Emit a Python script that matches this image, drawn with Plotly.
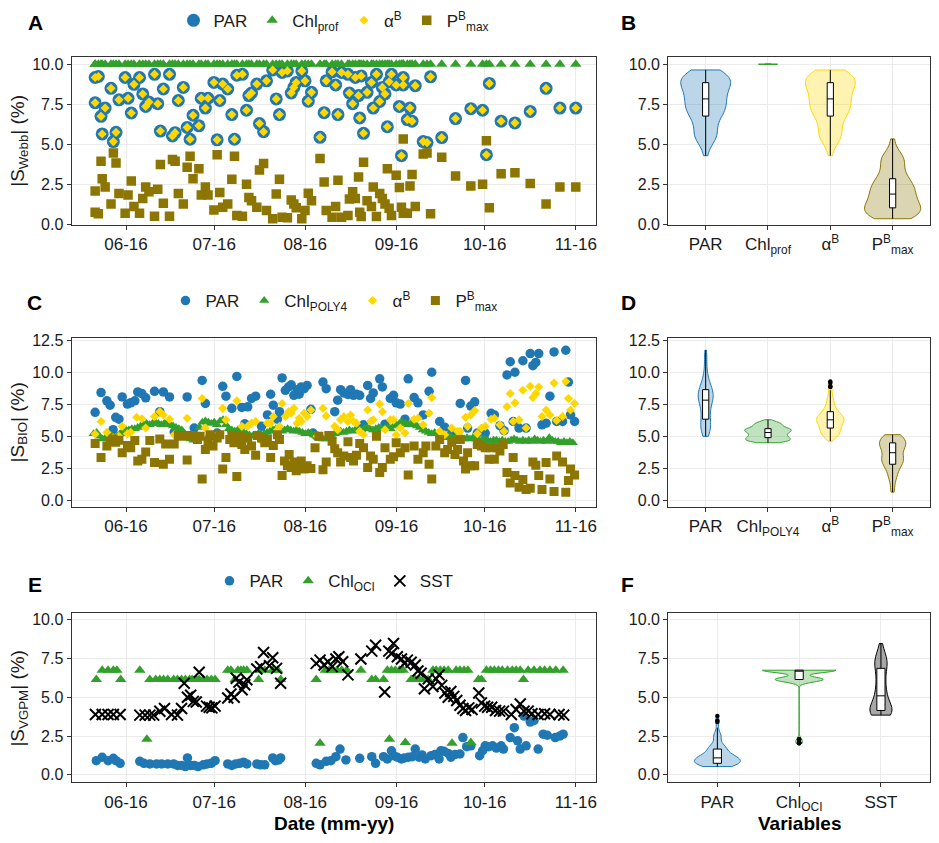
import numpy as np
import pandas as pd
import plotly.graph_objects as go

# ---------------- DATA (days since 2016-06-01) ----------------
# Panel A  (|S_Webb|)
A_day = [
    -10.5, -10.5, -9.4, -8.5, -8.1, -7.1, -5.1, -4.3, -3.4, -2.4,
    -0.3, 0.7, 1.8, 2.7, 4.6, 5.7, 6.7, 7.8, 9.7, 10.8,
    11.7, 12.7, 14.8, 15.8, 16.7, 17.8, 19.5, 20.8, 21.8, 22.8,
    24.8, 25.6, 27.0, 27.9, 29.9, 31.0, 31.9, 32.9, 34.6, 36.0,
    36.9, 37.7, 39.6, 41.0, 41.8, 42.7, 44.5, 45.4, 46.8, 47.8,
    49.9, 51.1, 52.2, 53.1, 54.9, 56.2, 57.1, 57.9, 59.8, 60.9,
    62.0, 63.1, 66.0, 67.4, 68.1, 70.1, 71.3, 72.1, 73.3, 75.5,
    76.0, 77.1, 78.0, 79.1, 79.5, 80.0, 80.8, 82.0, 83.5, 84.1,
    85.2, 86.3, 87.2, 88.1, 88.9, 89.5, 90.3, 91.9, 93.0, 93.7,
    94.3, 94.3, 95.7, 96.6, 97.3, 98.4, 101.1, 102.4, 103.6, 107.4,
    112.1, 117.3, 121.3, 122.6, 123.6, 127.6, 132.3, 137.5, 142.9, 147.6,
    153.0]
A_par = [
    9.18, 7.60, 9.24, 6.75, 5.65, 7.27, 8.50, 5.17, 5.75, 7.78,
    9.18, 7.88, 6.96, 8.75, 9.18, 8.15, 7.37, 7.64, 9.38, 7.54,
    5.83, 8.46, 9.38, 5.52, 5.73, 7.74, 8.56, 6.06, 5.32, 6.82,
    6.16, 7.88, 7.27, 7.88, 8.87, 5.28, 7.74, 8.77, 8.46, 6.86,
    5.32, 9.32, 9.38, 7.13, 8.05, 8.21, 8.77, 6.30, 5.79, 8.97,
    9.65, 7.84, 6.86, 9.49, 9.59, 8.21, 8.56, 8.87, 9.59, 8.97,
    7.70, 8.25, 5.44, 6.98, 8.97, 9.53, 8.71, 6.86, 9.49, 9.38,
    8.21, 7.54, 9.18, 8.05, 6.65, 9.28, 5.69, 8.25, 8.87, 7.27,
    9.38, 7.68, 8.56, 8.15, 6.10, 8.91, 9.38, 8.71, 7.37, 4.29,
    9.18, 8.71, 6.55, 7.27, 6.45, 8.67, 5.17, 5.11, 9.22, 5.42,
    6.61, 7.23, 7.13, 4.35, 8.81, 6.45, 6.34, 7.06, 8.50, 7.27,
    7.27]
A_alpha = list(A_par)  # alpha^B markers sit exactly on the PAR markers in the picture
A_chl = [10.0] * len(A_day)  # Chl_prof is flat at 10 on every date
A_pmax = [
    2.09, 0.76, 0.66, 3.94, 2.85, 2.34, 1.27, 4.46, 3.84, 1.93,
    0.70, 1.83, 2.71, 1.11, 0.70, 1.62, 2.34, 2.03, 0.51, 2.20,
    3.74, 1.31, 0.51, 4.05, 3.94, 1.93, 1.27, 3.57, 4.25, 2.85,
    3.47, 1.83, 2.34, 1.83, 0.90, 4.35, 1.99, 1.07, 1.27, 2.81,
    4.25, 0.55, 0.51, 2.51, 1.68, 1.48, 1.07, 3.39, 3.80, 0.86,
    0.35, 1.89, 2.81, 0.45, 0.41, 1.52, 1.27, 1.03, 0.35, 0.86,
    1.95, 1.48, 4.11, 2.65, 0.86, 0.45, 1.11, 2.75, 0.45, 0.55,
    1.58, 2.03, 1.62, 2.96, 0.76, 0.49, 3.88, 1.48, 1.11, 2.34,
    0.49, 1.93, 1.62, 1.27, 3.47, 1.01, 0.55, 3.06, 2.30, 1.07,
    5.34, 0.70, 0.70, 2.40, 3.12, 1.11, 4.39, 4.46, 0.66, 4.19,
    3.02, 2.40, 2.51, 5.22, 1.03, 3.16, 3.22, 2.55, 1.27, 2.34,
    2.34]

# Panel C  (|S_BIO|)
C_par_day = [
    -10.5, -8.5, -6.5, -5.4, -4.4, -3.5, -2.4, -1.3, 0.5, 1.6,
    3.0, 4.0, 5.4, 6.7, 9.7, 11.5, 12.7, 14.8, 16.4, 20.8,
    23.2, 25.9, 27.0, 28.6, 31.0, 32.9, 34.0, 36.0, 37.7, 39.4,
    40.4, 41.4, 42.7, 44.1, 46.1, 48.1, 49.2, 50.1, 51.5, 52.2,
    53.1, 54.2, 55.3, 56.2, 57.1, 58.2, 58.9, 59.6, 60.6, 61.6,
    62.9, 63.6, 65.0, 67.0, 68.1, 71.0, 72.0, 73.0, 74.1, 75.5,
    76.4, 77.4, 78.4, 79.5, 80.8, 82.2, 83.2, 84.1, 85.2, 86.3,
    87.2, 88.1, 89.9, 91.0, 91.9, 93.3, 94.9, 96.0, 98.0, 99.3,
    101.1, 103.1, 104.0, 106.7, 108.4, 110.8, 112.8, 113.7, 115.5, 116.2,
    117.3, 118.6, 119.5, 122.2, 124.2, 125.3, 127.2, 128.6, 129.6, 130.7,
    131.7, 132.3, 133.7, 135.0, 136.1, 137.5, 138.4, 139.4, 140.4, 141.5,
    142.9, 144.2, 145.6, 146.5, 148.5, 149.6, 150.5, 151.2, 152.6]
C_par = [
    6.88, 8.42, 7.78, 7.44, 5.52, 6.49, 6.34, 8.08, 7.52, 7.62,
    7.78, 8.47, 8.34, 8.01, 8.52, 6.93, 8.47, 8.08, 5.34, 8.08,
    5.65, 9.37, 7.57, 5.00, 5.26, 8.91, 8.14, 7.19, 9.68, 7.26,
    5.98, 7.31, 7.96, 8.14, 5.78, 6.67, 8.29, 7.44, 6.34, 6.93,
    9.57, 8.60, 8.86, 9.03, 8.21, 8.65, 8.29, 8.86, 8.73, 8.98,
    7.11, 5.26, 5.00, 9.24, 8.73, 6.93, 7.83, 8.65, 8.39, 8.27,
    8.65, 8.21, 8.29, 8.21, 5.90, 8.98, 7.96, 8.39, 5.26, 9.50,
    8.86, 5.95, 7.96, 8.21, 7.62, 7.52, 6.34, 9.50, 8.03, 7.62,
    6.67, 8.52, 10.01, 6.16, 5.72, 5.26, 5.26, 7.57, 9.37, 5.65,
    7.37, 7.70, 5.26, 5.26, 6.80, 6.67, 5.83, 5.44, 9.80, 10.83,
    6.16, 10.01, 5.65, 10.91, 5.65, 11.47, 10.52, 10.78, 11.47, 5.90,
    6.03, 8.14, 11.60, 6.16, 6.16, 11.73, 9.24, 6.67, 6.16]
C_chl_day = list(range(-11, 153))  # one value per day
C_chl = [
    5.2, 5.3, 5.0, 4.8, 4.9, 5.0, 5.1, 4.9, 5.0, 5.2,
    5.4, 5.5, 5.5, 5.6, 5.6, 5.7, 5.8, 5.9, 6.0, 5.9,
    6.0, 6.1, 6.0, 5.9, 6.0, 6.1, 5.9, 5.8, 5.7, 5.6,
    5.5, 5.2, 5.0, 4.8, 4.7, 5.0, 5.7, 6.1, 6.2, 6.1,
    6.0, 6.1, 5.9, 6.2, 6.3, 5.9, 5.6, 5.5, 5.4, 5.5,
    5.4, 5.3, 5.2, 5.1, 5.0, 5.1, 5.2, 5.1, 5.2, 5.3,
    5.4, 5.5, 5.6, 5.5, 5.4, 5.5, 5.6, 5.5, 5.4, 5.5,
    5.4, 5.3, 5.2, 5.3, 5.2, 5.1, 5.0, 4.9, 4.8, 4.8,
    4.9, 5.0, 5.2, 5.3, 5.4, 5.3, 5.4, 5.5, 5.4, 5.5,
    5.6, 5.5, 5.6, 5.7, 5.6, 5.5, 5.6, 5.7, 5.6, 5.6,
    5.7, 5.6, 5.8, 5.9, 6.0, 6.1, 6.0, 5.9, 6.0, 5.9,
    5.8, 5.7, 5.5, 5.4, 5.3, 5.2, 5.3, 5.2, 5.1, 5.0,
    4.9, 5.0, 4.9, 4.9, 5.0, 4.9, 4.8, 4.9, 4.8, 4.9,
    4.8, 4.7, 4.7, 4.8, 4.7, 4.6, 4.7, 4.7, 4.6, 4.7,
    4.6, 4.6, 4.7, 4.8, 4.7, 4.6, 4.7, 4.6, 4.7, 4.6,
    4.8, 4.7, 4.6, 4.7, 4.6, 4.9, 4.7, 4.6, 4.6, 4.5,
    4.6, 4.5, 4.6, 4.5]
C_alpha_day = [
    -10.5, -8.5, -6.5, -4.4, -2.4, -1.3, 0.5, 1.6, 3.6, 5.4,
    6.7, 9.7, 11.5, 12.7, 14.8, 16.4, 20.8, 23.2, 25.9, 27.0,
    28.6, 31.0, 32.9, 34.0, 37.7, 39.4, 41.4, 42.7, 44.1, 46.1,
    48.1, 49.2, 50.1, 51.5, 52.2, 53.1, 54.2, 55.3, 56.2, 57.1,
    58.2, 58.9, 59.6, 60.6, 61.6, 62.9, 65.0, 67.0, 68.1, 71.0,
    72.0, 73.0, 74.1, 75.5, 76.4, 77.4, 78.4, 79.5, 80.8, 82.2,
    83.2, 84.1, 85.2, 86.3, 87.2, 88.1, 89.9, 91.0, 91.9, 93.3,
    94.9, 96.0, 98.0, 99.3, 101.1, 103.1, 104.0, 106.7, 108.4, 110.8,
    112.8, 113.7, 115.5, 116.2, 117.3, 118.6, 119.5, 120.9, 122.2, 124.2,
    125.3, 127.2, 128.6, 129.6, 130.7, 131.7, 132.3, 133.7, 135.0, 136.1,
    137.5, 138.4, 139.4, 140.4, 141.5, 142.9, 144.2, 145.6, 146.5, 148.5,
    149.6, 150.5, 151.2, 152.6]
C_alpha = [
    5.18, 6.16, 5.31, 4.88, 5.00, 5.78, 5.21, 5.31, 6.49, 6.37,
    5.65, 6.55, 6.93, 6.67, 6.34, 5.13, 6.42, 5.00, 7.96, 5.65,
    5.00, 5.13, 7.19, 6.29, 7.78, 5.78, 5.78, 6.03, 6.16, 4.62,
    6.03, 6.03, 6.55, 5.52, 5.78, 7.57, 6.55, 6.93, 6.80, 7.19,
    6.03, 6.42, 6.16, 6.80, 6.55, 7.06, 5.00, 7.19, 6.60, 5.78,
    5.52, 6.29, 6.55, 6.16, 6.67, 6.16, 6.03, 5.39, 5.13, 7.06,
    6.16, 6.29, 5.00, 7.52, 6.93, 5.52, 6.29, 6.29, 5.13, 5.65,
    5.26, 7.57, 6.34, 6.42, 5.90, 6.80, 8.03, 5.39, 5.13, 5.65,
    5.39, 5.39, 6.49, 5.78, 6.67, 7.01, 5.21, 5.65, 5.78, 6.34,
    6.42, 5.90, 5.39, 7.31, 8.34, 6.16, 7.62, 6.29, 8.60, 5.65,
    8.91, 8.03, 8.34, 8.86, 6.55, 7.06, 6.67, 9.16, 6.24, 6.55,
    9.29, 7.96, 7.06, 7.57]
C_pmax_day = [
    -10.5, -8.5, -6.5, -5.4, -4.4, -3.5, -2.4, -1.3, 0.5, 1.6,
    3.0, 4.0, 5.4, 6.7, 8.1, 9.7, 11.5, 12.7, 13.5, 14.8,
    16.4, 17.8, 19.1, 20.8, 21.8, 23.2, 24.3, 25.2, 25.9, 27.0,
    27.9, 28.6, 29.6, 31.0, 31.9, 32.9, 34.0, 35.3, 36.0, 36.7,
    37.7, 38.7, 39.4, 40.4, 41.4, 42.7, 44.1, 44.7, 46.1, 47.2,
    48.1, 49.2, 50.1, 51.5, 52.2, 53.1, 53.9, 54.9, 55.5, 56.2,
    57.1, 57.9, 58.9, 59.6, 60.6, 61.6, 62.9, 64.3, 65.6, 67.0,
    68.1, 69.0, 70.1, 71.0, 72.0, 73.0, 74.1, 75.5, 76.4, 77.4,
    78.4, 79.5, 80.8, 82.2, 83.2, 84.1, 85.2, 86.3, 87.2, 88.1,
    89.9, 91.0, 91.9, 93.3, 94.9, 96.0, 98.0, 99.3, 101.1, 102.0,
    103.1, 104.0, 105.4, 106.7, 108.4, 109.4, 110.8, 111.9, 112.8, 113.7,
    114.8, 115.5, 116.2, 117.3, 118.6, 119.5, 120.9, 122.2, 123.5, 124.2,
    125.3, 126.3, 127.2, 128.3, 129.6, 130.7, 131.7, 132.3, 133.7, 135.0,
    136.1, 137.5, 138.4, 139.4, 140.4, 141.5, 142.9, 144.2, 145.6, 146.5,
    148.5, 149.6, 150.5, 151.2, 152.6]
C_pmax = [
    4.44, 3.34, 4.24, 4.62, 4.80, 4.54, 4.70, 3.72, 4.29, 4.11,
    4.67, 3.08, 3.21, 3.77, 4.67, 2.95, 4.80, 2.82, 4.41, 3.21,
    4.41, 5.06, 5.00, 3.16, 5.06, 5.00, 4.75, 5.00, 1.67, 3.98,
    4.62, 5.13, 4.24, 4.88, 5.13, 2.44, 3.34, 4.75, 5.06, 4.49,
    1.87, 5.00, 4.36, 3.98, 4.88, 4.24, 3.52, 5.06, 4.88, 4.49,
    4.75, 3.34, 4.29, 5.13, 4.75, 1.93, 3.08, 2.70, 3.59, 2.57,
    3.00, 2.31, 2.82, 3.08, 2.44, 2.70, 2.49, 4.11, 5.00, 2.39,
    3.00, 5.06, 4.62, 4.03, 3.72, 3.00, 3.47, 4.57, 3.34, 3.08,
    3.52, 4.44, 4.11, 2.57, 3.47, 3.21, 5.00, 2.18, 2.57, 4.11,
    3.21, 3.41, 4.49, 3.72, 4.11, 1.98, 4.24, 3.21, 3.72, 4.24,
    2.82, 1.67, 4.24, 4.75, 3.72, 3.98, 4.54, 3.59, 3.98, 4.75,
    3.08, 2.44, 3.72, 2.70, 2.70, 4.36, 4.24, 4.11, 3.21, 4.11,
    3.21, 4.11, 3.85, 4.36, 2.18, 1.36, 3.34, 1.93, 1.03, 1.62,
    0.85, 0.95, 3.00, 2.75, 1.93, 0.85, 2.95, 1.67, 0.69, 3.47,
    3.00, 0.64, 1.54, 2.44, 1.98]

# Panel E  (|S_VGPM|)
E_par_day = [
    -10.1, -8.1, -6.1, -4.3, -3.4, -2.0, 4.7, 6.1, 8.1, 10.4,
    12.1, 14.2, 16.2, 17.5, 18.9, 20.2, 20.9, 22.0, 23.2, 24.5,
    26.3, 27.6, 29.0, 30.3, 34.6, 36.0, 37.3, 38.7, 40.0, 41.1,
    44.5, 45.8, 47.2, 49.9, 50.8, 51.9, 52.6, 64.7, 66.0, 68.1,
    69.7, 71.4, 72.8, 74.8, 79.5, 83.6, 84.9, 87.6, 88.9, 90.3,
    91.0, 92.3, 93.7, 94.7, 96.1, 97.4, 98.4, 99.7, 100.7, 101.8,
    103.8, 105.1, 106.5, 107.1, 108.2, 109.6, 110.5, 111.9, 113.6, 114.6,
    115.9, 117.3, 120.3, 121.3, 122.2, 123.3, 124.7, 126.0, 127.6, 128.4,
    130.7, 132.1, 133.2, 134.1, 135.4, 136.1, 137.5, 138.8, 140.2, 141.9,
    143.3, 146.0, 147.6, 148.7]
E_par = [
    0.91, 1.13, 0.91, 1.06, 0.91, 0.74, 0.87, 0.74, 0.70, 0.70,
    0.70, 0.70, 0.70, 0.60, 0.60, 0.53, 1.09, 0.60, 0.60, 0.53,
    0.64, 0.70, 0.74, 0.91, 0.70, 0.60, 0.70, 0.74, 0.81, 0.70,
    0.70, 0.64, 0.64, 1.09, 0.91, 0.96, 1.09, 0.74, 0.64, 0.87,
    0.91, 1.17, 1.66, 0.96, 1.06, 1.17, 0.74, 1.17, 1.02, 1.55,
    1.23, 1.13, 1.02, 1.09, 1.13, 1.17, 1.66, 1.13, 1.28, 1.02,
    1.23, 1.30, 1.02, 1.55, 1.51, 1.38, 1.13, 1.30, 1.34, 2.40,
    1.81, 1.87, 1.23, 1.55, 1.87, 1.81, 1.87, 1.72, 1.87, 1.66,
    2.40, 3.04, 2.19, 1.66, 3.79, 1.87, 3.40, 3.51, 1.66, 2.62,
    2.55, 2.40, 2.51, 2.62]
E_chl_day = [
    -10.1, -8.1, -6.1, -4.3, -3.1, -1.8, 4.7, 7.1, 8.1, 10.1,
    11.5, 12.8, 14.2, 16.2, 17.5, 18.9, 20.2, 21.6, 22.5, 23.9,
    24.9, 26.3, 27.6, 29.0, 30.3, 34.6, 35.7, 37.1, 38.1, 39.1,
    40.0, 41.1, 45.1, 45.8, 47.2, 49.9, 51.6, 52.6, 64.7, 66.0,
    67.8, 69.1, 70.5, 71.8, 73.4, 75.1, 79.9, 83.6, 84.9, 87.6,
    88.9, 89.6, 90.3, 91.6, 93.0, 94.3, 95.0, 97.0, 98.4, 99.7,
    101.1, 102.8, 104.4, 105.5, 106.9, 108.2, 109.6, 110.9, 112.3, 113.6,
    115.0, 116.3, 117.3, 119.9, 120.9, 122.6, 124.0, 125.3, 126.7, 128.0,
    129.8, 131.4, 132.7, 134.1, 135.2, 136.8, 138.8, 140.8, 142.4, 144.2,
    146.2, 148.7]
E_chl = [
    6.15, 6.75, 6.75, 6.75, 6.75, 6.15, 6.75, 2.30, 6.15, 6.15,
    6.15, 6.15, 6.15, 6.15, 6.15, 6.15, 6.15, 6.15, 6.15, 6.15,
    6.15, 6.15, 6.15, 6.15, 6.15, 6.75, 6.75, 6.15, 6.75, 6.75,
    6.75, 6.75, 6.15, 6.75, 6.75, 6.75, 6.75, 6.15, 6.15, 2.04,
    6.75, 6.75, 6.75, 6.75, 6.75, 6.75, 6.75, 6.15, 6.15, 6.15,
    6.75, 2.30, 6.75, 6.75, 6.75, 6.75, 2.09, 6.15, 6.15, 6.15,
    6.15, 6.15, 6.75, 6.75, 6.75, 6.75, 6.75, 2.04, 6.75, 6.75,
    6.75, 6.75, 2.09, 6.15, 6.15, 6.75, 6.75, 6.75, 6.75, 6.75,
    6.75, 6.75, 6.75, 6.75, 6.15, 6.75, 6.75, 6.75, 6.75, 6.75,
    6.75, 6.75]
E_sst_day = [
    -10.4, -8.1, -6.1, -4.3, -2.0, 4.7, 6.5, 8.1, 9.4, 11.5,
    13.1, 15.5, 17.5, 18.9, 19.8, 20.9, 22.0, 22.9, 23.9, 24.9,
    27.4, 28.3, 29.2, 30.3, 34.6, 35.7, 36.8, 37.5, 38.4, 39.5,
    40.4, 41.1, 44.5, 45.8, 46.8, 48.8, 49.9, 51.2, 52.6, 64.7,
    66.0, 67.4, 68.7, 70.1, 71.4, 72.4, 73.7, 75.5, 79.9, 83.6,
    84.9, 88.0, 89.4, 90.3, 91.0, 92.3, 93.7, 94.7, 95.7, 97.0,
    98.4, 99.3, 100.4, 101.5, 102.8, 104.4, 105.5, 106.5, 107.4, 108.5,
    109.6, 110.5, 111.5, 112.5, 113.6, 114.6, 115.5, 116.6, 117.7, 120.0,
    120.9, 122.0, 123.0, 124.4, 125.7, 127.1, 128.4, 131.1, 132.7, 134.1,
    135.4, 136.8, 138.1, 140.2, 142.4, 144.2, 147.3, 148.9]
E_sst = [
    3.89, 3.89, 3.89, 3.89, 3.89, 3.85, 3.85, 3.85, 3.85, 4.10,
    4.28, 3.89, 3.85, 4.28, 5.91, 5.00, 5.13, 4.74, 4.70, 6.62,
    4.43, 4.36, 4.32, 4.43, 4.96, 5.21, 5.00, 6.23, 5.98, 5.49,
    5.81, 6.13, 6.83, 6.98, 7.89, 7.04, 7.55, 6.87, 5.91, 7.19,
    7.40, 7.09, 7.30, 6.98, 7.47, 7.62, 7.30, 6.45, 7.47, 7.98,
    8.36, 5.34, 7.98, 7.83, 8.47, 7.62, 7.47, 7.19, 7.40, 7.26,
    7.09, 6.70, 6.55, 5.55, 6.19, 5.70, 6.19, 6.45, 5.77, 5.28,
    5.00, 5.38, 5.06, 4.79, 4.49, 4.28, 4.15, 4.32, 4.21, 5.28,
    4.64, 4.43, 4.36, 4.36, 4.15, 4.11, 4.11, 3.89, 4.21, 4.57,
    4.11, 4.11, 3.94, 3.89, 3.94, 3.89, 3.89, 3.85]

# labels
LBL_AB = ["PAR", "Chl<sub>prof</sub>", "α<sup>B</sup>", "P<sup>B</sup><sub>max</sub>"]
LBL_CD = ["PAR", "Chl<sub>POLY4</sub>", "α<sup>B</sup>", "P<sup>B</sup><sub>max</sub>"]
LBL_EF = ["PAR", "Chl<sub>OCI</sub>", "SST"]

# ---------------- STYLE ----------------
COL_PAR = "#1f78b4"
COL_CHL = "#33a02c"
COL_ALPHA = "#ffd700"
COL_PMAX = "#8c7500"
COL_SST = "#000000"
FILL = {COL_PAR: "rgba(31,120,180,0.30)", COL_CHL: "rgba(51,160,44,0.30)",
        COL_ALPHA: "rgba(255,215,0,0.30)", COL_PMAX: "rgba(140,117,0,0.30)",
        COL_SST: "rgba(60,60,60,0.45)"}
FONT = "Arial, Liberation Sans, sans-serif"
W, H = 939, 843
BASE = pd.Timestamp("2016-06-01")


def dates(days):
    return [BASE + pd.Timedelta(days=float(d)) for d in days]


def nrd0(v):
    v = np.asarray(v, float)
    sd = v.std(ddof=1)
    q75, q25 = np.percentile(v, [75, 25])
    lo = min(sd, (q75 - q25) / 1.34)
    if lo <= 0:
        lo = sd if sd > 0 else 1.0
    return 0.9 * lo * len(v) ** -0.2


def px_x(a, b):
    return [a / W, b / W]


def px_y(top, bottom):
    return [1 - bottom / H, 1 - top / H]


LEFT = px_x(71.7, 597)
RIGHT = px_x(669, 931)
ROW_A = px_y(51.7, 222.5)
ROW_C = px_y(337.7, 509.3)
ROW_E = px_y(617.3, 789.3)
XR = ["2016-05-13 12:00", "2016-11-08 00:00"]

fig = go.Figure()


def scat(x, y, name, sym, size, col, xa, ya, leg, rank, line=None):
    m = dict(symbol=sym, size=size, color=col)
    if line:
        m["line"] = line
    fig.add_trace(go.Scatter(x=dates(x), y=y, mode="markers", name=name, marker=m,
                             xaxis=xa, yaxis=ya, legend=leg, legendrank=rank,
                             hoverinfo="skip"))


def violin(pos, vals, col, width, xa, ya):
    fig.add_trace(go.Violin(x=[pos] * len(vals), y=vals, xaxis=xa, yaxis=ya,
                            line=dict(color=col, width=1), fillcolor=FILL[col],
                            spanmode="hard", width=width, points=False,
                            bandwidth=nrd0(vals), scalemode="width",
                            box_visible=False, meanline_visible=False,
                            showlegend=False, hoverinfo="skip"))


def box(pos, vals, xa, ya):
    fig.add_trace(go.Box(x=[pos] * len(vals), y=vals, xaxis=xa, yaxis=ya, width=0.1,
                         fillcolor="white", line=dict(color="black", width=1),
                         whiskerwidth=0, boxpoints="outliers", pointpos=0, jitter=0,
                         marker=dict(color="black", size=4.5), showlegend=False,
                         hoverinfo="skip"))


# Panel A
scat(A_day, A_par, LBL_AB[0], "circle", 13, COL_PAR, "x", "y", "legend", 1)
scat(A_day, A_chl, LBL_AB[1], "triangle-up", 10, COL_CHL, "x", "y", "legend", 2)
scat(A_day, A_alpha, LBL_AB[2], "diamond", 7, COL_ALPHA, "x", "y", "legend", 3)
scat(A_day, A_pmax, LBL_AB[3], "square", 9.5, COL_PMAX, "x", "y", "legend", 4)

# Panel B
violin(1, A_par, COL_PAR, 0.80, "x2", "y2")
box(1, A_par, "x2", "y2")
chl_level = float(np.median(A_chl))
fig.add_trace(go.Scatter(x=[2 - 0.155, 2 + 0.155], y=[chl_level, chl_level], mode="lines",
                         line=dict(color=COL_CHL, width=1.5), xaxis="x2", yaxis="y2",
                         showlegend=False, hoverinfo="skip"))
box(2, A_chl, "x2", "y2")
violin(3, A_alpha, COL_ALPHA, 0.80, "x2", "y2")
box(3, A_alpha, "x2", "y2")
violin(4, A_pmax, COL_PMAX, 0.90, "x2", "y2")
box(4, A_pmax, "x2", "y2")

# Panel C
scat(C_par_day, C_par, LBL_CD[0], "circle", 9.5, COL_PAR, "x3", "y3", "legend2", 1)
scat(C_chl_day, C_chl, LBL_CD[1], "triangle-up", 9, COL_CHL, "x3", "y3", "legend2", 2)
scat(C_alpha_day, C_alpha, LBL_CD[2], "diamond", 7, COL_ALPHA, "x3", "y3", "legend2", 3)
scat(C_pmax_day, C_pmax, LBL_CD[3], "square", 9, COL_PMAX, "x3", "y3", "legend2", 4)

# Panel D
violin(1, C_par, COL_PAR, 0.24, "x4", "y4")
box(1, C_par, "x4", "y4")
violin(2, C_chl, COL_CHL, 0.75, "x4", "y4")
box(2, C_chl, "x4", "y4")
violin(3, C_alpha, COL_ALPHA, 0.44, "x4", "y4")
box(3, C_alpha, "x4", "y4")
violin(4, C_pmax, COL_PMAX, 0.42, "x4", "y4")
box(4, C_pmax, "x4", "y4")

# Panel E
scat(E_par_day, E_par, LBL_EF[0], "circle", 9.5, COL_PAR, "x5", "y5", "legend3", 1)
scat(E_chl_day, E_chl, LBL_EF[1], "triangle-up", 10, COL_CHL, "x5", "y5", "legend3", 2)
scat(E_sst_day, E_sst, LBL_EF[2], "x-thin", 11, COL_SST, "x5", "y5", "legend3", 3,
     line=dict(width=2, color=COL_SST))

# Panel F
violin(1, E_par, COL_PAR, 0.56, "x6", "y6")
box(1, E_par, "x6", "y6")
violin(2, E_chl, COL_CHL, 0.90, "x6", "y6")
box(2, E_chl, "x6", "y6")
violin(3, E_sst, COL_SST, 0.27, "x6", "y6")
box(3, E_sst, "x6", "y6")

AX = dict(showline=True, mirror=True, linecolor="#333333", linewidth=1.2,
          ticks="outside", ticklen=4, tickwidth=1, tickcolor="#333333",
          showgrid=True, gridcolor="#ebebeb", gridwidth=1, zeroline=False)


def xdate(anchor):
    return dict(AX, domain=LEFT, anchor=anchor, type="date", range=XR,
                tickformat="%m-%y", dtick="M1", tick0="2016-06-01",
                tickfont=dict(size=17, color="#1a1a1a", family=FONT))


def xcat(anchor, labels):
    n = len(labels)
    return dict(AX, domain=RIGHT, anchor=anchor, range=[0.4, n + 0.6],
                tickvals=list(range(1, n + 1)), ticktext=labels,
                tickfont=dict(size=17, color="#1a1a1a", family=FONT))


def yax(anchor, dom, rng):
    return dict(AX, domain=dom, anchor=anchor, range=rng, dtick=2.5, tick0=0,
                tickformat=".1f", tickfont=dict(size=16, color="#1a1a1a", family=FONT))


RA = [-0.03, 10.47]
RC = [-0.51, 12.68]
RE = [-0.48, 10.44]

LEG = dict(orientation="h", xanchor="center", yanchor="middle",
           x=(71.7 + 597) / 2 / W, font=dict(size=17, color="#1a1a1a", family=FONT),
           bgcolor="rgba(0,0,0,0)", itemwidth=30, tracegroupgap=0)

ann = []
for txt, x, y in [("A", 36, 17), ("B", 629, 17), ("C", 35, 302), ("D", 629, 302),
                  ("E", 35, 588), ("F", 628, 588)]:
    ann.append(dict(text=f"<b>{txt}</b>", x=x / W, y=1 - y / H, xref="paper", yref="paper",
                    showarrow=False, xanchor="center", yanchor="middle",
                    font=dict(size=21, color="black", family=FONT)))
for txt, dom in [("|S<sub>Webb</sub>| (%)", ROW_A), ("|S<sub>BIO</sub>| (%)", ROW_C),
                 ("|S<sub>VGPM</sub>| (%)", ROW_E)]:
    ann.append(dict(text=txt, x=19 / W, y=(dom[0] + dom[1]) / 2, xref="paper", yref="paper",
                    showarrow=False, textangle=-90, xanchor="center", yanchor="middle",
                    font=dict(size=19, color="#1a1a1a", family=FONT)))
ann.append(dict(text="<b>Date (mm-yy)</b>", x=334 / W, y=1 - 831 / H, xref="paper",
                yref="paper", showarrow=False, xanchor="center", yanchor="middle",
                font=dict(size=19, color="black", family=FONT)))
ann.append(dict(text="<b>Variables</b>", x=800 / W, y=1 - 831 / H, xref="paper",
                yref="paper", showarrow=False, xanchor="center", yanchor="middle",
                font=dict(size=19, color="black", family=FONT)))

fig.update_layout(
    width=W, height=H, margin=dict(l=0, r=0, t=0, b=0),
    paper_bgcolor="white", plot_bgcolor="white",
    font=dict(family=FONT, color="#1a1a1a"),
    violinmode="overlay", boxmode="overlay",
    xaxis=xdate("y"), yaxis=yax("x", ROW_A, RA),
    xaxis2=xcat("y2", LBL_AB), yaxis2=yax("x2", ROW_A, RA),
    xaxis3=xdate("y3"), yaxis3=yax("x3", ROW_C, RC),
    xaxis4=xcat("y4", LBL_CD), yaxis4=yax("x4", ROW_C, RC),
    xaxis5=xdate("y5"), yaxis5=yax("x5", ROW_E, RE),
    xaxis6=xcat("y6", LBL_EF), yaxis6=yax("x6", ROW_E, RE),
    legend=dict(LEG, y=1 - 15 / H),
    legend2=dict(LEG, y=1 - 300 / H),
    legend3=dict(LEG, y=1 - 585 / H),
    annotations=ann,
)

fig.write_html("out.html")
